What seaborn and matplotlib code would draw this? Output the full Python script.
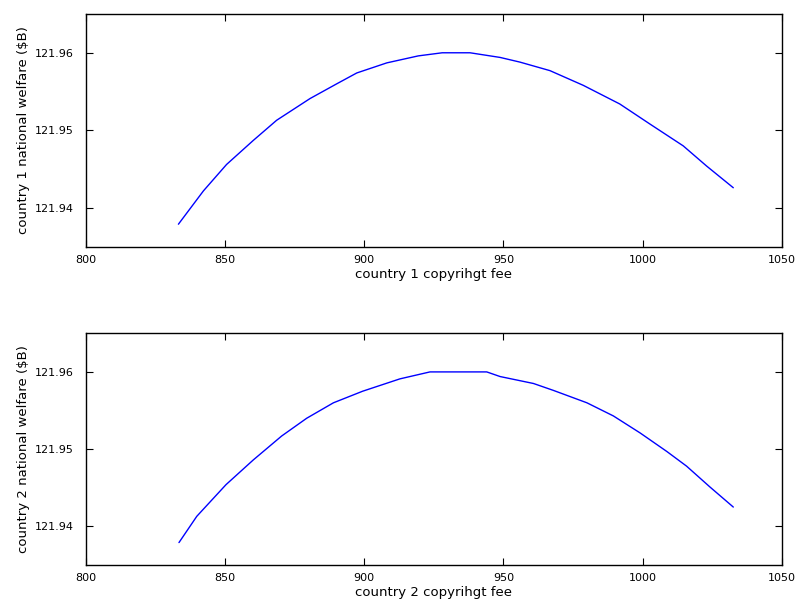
import matplotlib
matplotlib.use("Agg")
import matplotlib.pyplot as plt
import seaborn as sns
import pandas as pd

fee1 = [833.2, 842.2, 850.5, 860.1, 868.5, 880.5, 890.1, 897.3, 908.1, 919.4,
        928.0, 938.0, 948.8, 955.9, 966.7, 978.7, 991.8, 1002.7, 1014.6, 1023.0,
        1032.6]
welfare1 = [121.9379, 121.9422, 121.9456, 121.9487, 121.9513, 121.9541, 121.9560,
            121.9574, 121.9587, 121.9596, 121.9600, 121.9600, 121.9594, 121.9588,
            121.9577, 121.9558, 121.9534, 121.9508, 121.9480, 121.9454, 121.9426]

fee2 = [833.4, 839.8, 850.3, 860.1, 870.3, 879.3, 888.9, 899.4, 912.8, 923.6,
        944.0, 948.8, 960.8, 968.0, 980.0, 989.5, 999.1, 1008.7, 1015.8, 1024.2,
        1032.6]
welfare2 = [121.9379, 121.9413, 121.9454, 121.9486, 121.9517, 121.9540, 121.9560,
            121.9575, 121.9591, 121.9600, 121.9600, 121.9594, 121.9585, 121.9576,
            121.9560, 121.9543, 121.9521, 121.9497, 121.9478, 121.9451, 121.9425]

x_ticks = [800, 850, 900, 950, 1000, 1050]
y_ticks = [121.94, 121.95, 121.96]
y_tick_labels = ["121.94", "121.95", "121.96"]

sns.set_style("ticks")
plt.rcParams['font.family'] = ['DejaVu Sans']

fig = plt.figure(figsize=(7.98, 6.06), dpi=100)
ax1 = fig.add_axes([0.1078, 0.5929, 0.8718, 0.384])
ax2 = fig.add_axes([0.1078, 0.0677, 0.8718, 0.3823])

panels = [
    (ax1, fee1, welfare1, "country 1 copyrihgt fee", "country 1 national welfare ($B)"),
    (ax2, fee2, welfare2, "country 2 copyrihgt fee", "country 2 national welfare ($B)"),
]

for ax, xs, ys, xl, yl in panels:
    df = pd.DataFrame({"fee": xs, "welfare": ys})
    sns.lineplot(data=df, x="fee", y="welfare", ax=ax, color=(0, 0, 1), linewidth=1.0)
    ax.set_xlim(800, 1050)
    ax.set_ylim(121.935, 121.965)
    ax.set_xticks(x_ticks)
    ax.set_xticklabels([str(t) for t in x_ticks])
    ax.set_yticks(y_ticks)
    ax.set_yticklabels(y_tick_labels)
    ax.tick_params(direction="in", top=True, right=True, length=5, width=0.8,
                   labelsize=8, colors="black")
    ax.tick_params(axis="x", pad=6)
    ax.tick_params(axis="y", pad=9)
    for s in ax.spines.values():
        s.set_visible(True)
        s.set_linewidth(1.0)
        s.set_color("black")
    ax.set_xlabel(xl, fontsize=9.5, labelpad=2, color="black")
    ax.set_ylabel(yl, fontsize=9.5, labelpad=3, color="black")

fig.savefig("out.png", dpi=100, facecolor="white")
